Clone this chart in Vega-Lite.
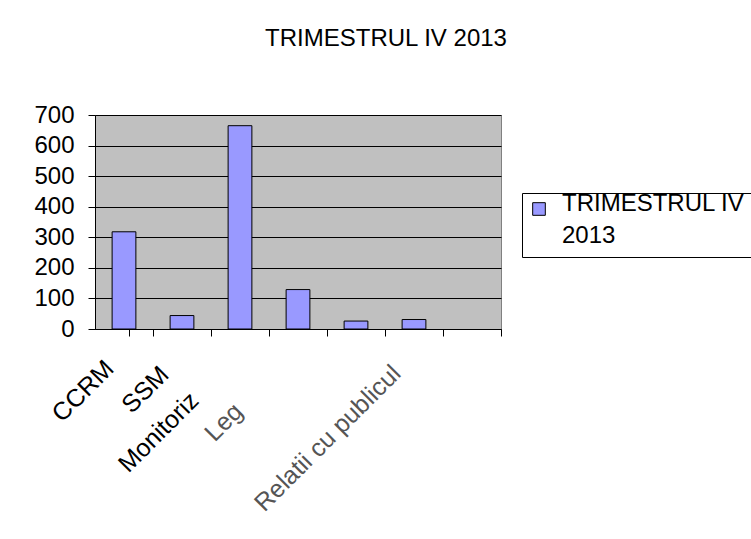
{
  "$schema": "https://vega.github.io/schema/vega-lite/v6.json",
  "width": 406,
  "height": 214,
  "autosize": {"type": "none"},
  "padding": {"left": 95, "top": 115, "right": 250, "bottom": 210},
  "background": "white",
  "title": {
    "text": "TRIMESTRUL IV 2013",
    "font": "Liberation Sans",
    "fontSize": 24,
    "fontWeight": "normal",
    "color": "black",
    "anchor": "middle",
    "frame": "group",
    "baseline": "alphabetic",
    "offset": 33,
    "dx": 88
  },
  "data": {
    "values": [
      {"category": "CCRM", "value": 318, "series": "TRIMESTRUL IV 2013"},
      {"category": "SSM", "value": 44, "series": "TRIMESTRUL IV 2013"},
      {"category": "Monitoriz", "value": 665, "series": "TRIMESTRUL IV 2013"},
      {"category": "Leg", "value": 129, "series": "TRIMESTRUL IV 2013"},
      {"category": "5", "value": 26, "series": "TRIMESTRUL IV 2013"},
      {"category": "Relatii cu publicul", "value": 31, "series": "TRIMESTRUL IV 2013"},
      {"category": "7", "value": null, "series": "TRIMESTRUL IV 2013"}
    ]
  },
  "mark": {"type": "bar", "stroke": "black", "strokeWidth": 1},
  "encoding": {
    "x": {
      "field": "category",
      "type": "nominal",
      "sort": null,
      "scale": {
        "domain": ["CCRM", "SSM", "Monitoriz", "Leg", "5", "Relatii cu publicul", "7"],
        "paddingInner": 0.59,
        "paddingOuter": 0.295
      },
      "axis": {
        "title": null,
        "labelAngle": -45,
        "labelAlign": "right",
        "labelBaseline": "middle",
        "labelFont": "Liberation Sans",
        "labelFontSize": 25,
        "labelColor": {"condition": {"test": "datum.value == 'Leg' || datum.value == 'Relatii cu publicul'", "value": "#555555"}, "value": "black"},
        "labelExpr": "datum.value == '5' || datum.value == '7' ? '' : datum.value",
        "labelOffset": {"condition": [
          {"test": "datum.value == 'Monitoriz'", "value": -63},
          {"test": "datum.value == 'Leg'", "value": -77},
          {"test": "datum.value == 'SSM'", "value": -35},
          {"test": "datum.value == 'Relatii cu publicul'", "value": -35}
        ], "value": -32},
        "labelPadding": {"condition": [
          {"test": "datum.value == 'Monitoriz'", "value": 60},
          {"test": "datum.value == 'Leg'", "value": 71},
          {"test": "datum.value == 'SSM'", "value": 34},
          {"test": "datum.value == 'Relatii cu publicul'", "value": 33}
        ], "value": 28},
        "labelOverlap": false,
        "labelLimit": 400,
        "bandPosition": 1,
        "tickExtra": true,
        "tickOffset": 17,
        "tickSize": 7,
        "tickColor": "black",
        "domainColor": "black",
        "grid": false
      }
    },
    "y": {
      "field": "value",
      "type": "quantitative",
      "scale": {"domain": [0, 700], "nice": false},
      "axis": {
        "title": null,
        "values": [0, 100, 200, 300, 400, 500, 600, 700],
        "labelFont": "Liberation Sans",
        "labelFontSize": 24,
        "labelColor": "black",
        "labelPadding": 14,
        "tickSize": 7,
        "tickColor": "black",
        "domainColor": "black",
        "grid": true,
        "gridColor": "black",
        "gridOpacity": 1
      }
    },
    "color": {
      "field": "series",
      "type": "nominal",
      "scale": {"range": ["#9999FF"]},
      "legend": {
        "title": null,
        "orient": "none",
        "legendX": 427,
        "legendY": 78,
        "symbolType": "square",
        "symbolSize": 160,
        "symbolStrokeColor": "black",
        "symbolStrokeWidth": 1,
        "labelFont": "Liberation Sans",
        "labelFontSize": 24,
        "labelColor": "black",
        "labelLimit": 400,
        "labelOffset": 11,
        "labelExpr": "['TRIMESTRUL IV', '2013']",
        "strokeColor": "black",
        "padding": 9,
        "symbolOffset": -4,
        "encode": {
          "labels": {"update": {"lineHeight": {"value": 32}, "dy": {"value": -10}}},
          "symbols": {"update": {"y": {"value": 7}}}
        }
      }
    }
  },
  "config": {
    "view": {"fill": "#C0C0C0", "stroke": "#808080", "strokeWidth": 1},
    "axis": {"domainWidth": 1, "tickWidth": 1, "gridWidth": 1}
  }
}
